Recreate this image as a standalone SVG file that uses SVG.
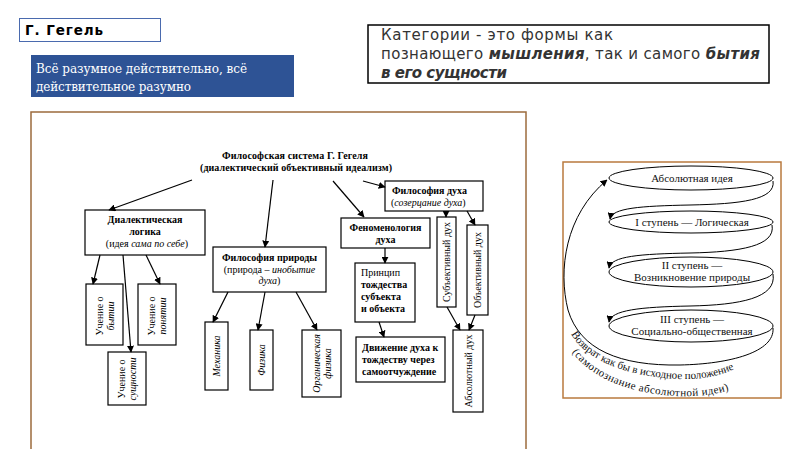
<svg xmlns="http://www.w3.org/2000/svg" width="800" height="449" viewBox="0 0 800 449">
<defs>
<marker id="ah" viewBox="0 0 10 10" refX="9" refY="5" markerWidth="7" markerHeight="7" markerUnits="userSpaceOnUse" orient="auto">
<path d="M0,0 L10,5 L0,10 z" fill="#000"/>
</marker>
<style>
.box{fill:#fff;stroke:#000;stroke-width:1.2}
.ln{fill:none;stroke:#000;stroke-width:1.2;marker-end:url(#ah)}
.sp{fill:none;stroke:#000;stroke-width:1}
.t{font-family:"Liberation Serif","Times New Roman",serif;font-size:10px;fill:#000}
.tb{font-family:"Liberation Serif","Times New Roman",serif;font-size:10px;font-weight:bold;fill:#000}
.it{font-style:italic}
.st{font-family:"Liberation Serif","DejaVu Serif",serif;font-size:11px;fill:#111}
</style>
</defs>
<rect width="800" height="449" fill="#fff"/>

<g id="title">
<rect x="19.5" y="18.5" width="141" height="23" fill="#fff" stroke="#4a6aae" stroke-width="1"/>
<text x="25" y="35" font-family="DejaVu Sans, sans-serif" font-size="13.5" font-weight="bold" fill="#000" textLength="78">Г. Гегель</text>
</g>

<g id="quote">
<rect x="31" y="55" width="263" height="42" fill="#2e5395"/>
<text x="36" y="73" font-family="DejaVu Serif, serif" font-size="12" fill="#fff" textLength="211">Всё разумное действительно, всё</text>
<text x="36" y="91" font-family="DejaVu Serif, serif" font-size="12" fill="#fff" textLength="155">действительное разумно</text>
</g>

<g id="categories">
<rect x="368" y="25" width="401" height="58" fill="#fff" stroke="#000" stroke-width="1.5"/>
<text font-family="DejaVu Sans, sans-serif" font-size="15" fill="#333">
<tspan x="381" y="40" textLength="232">Категории - это формы как</tspan>
<tspan x="381" y="59" textLength="379">познающего <tspan font-weight="bold" font-style="italic">мышления</tspan>, так и самого <tspan font-weight="bold" font-style="italic">бытия</tspan></tspan>
<tspan x="381" y="78" font-weight="bold" font-style="italic" textLength="126">в его сущности</tspan>
</text>
</g>

<g id="frame-left">
<rect x="31" y="112" width="495" height="350" fill="none" stroke="#9c6b3c" stroke-width="1.5"/>
</g>
<g id="frame-right">
<rect x="563" y="162" width="218" height="236" fill="none" stroke="#b97a3e" stroke-width="1.5"/>
</g>

<g id="system">
<text class="tb" x="295" y="159" text-anchor="middle" textLength="146">Философская система Г. Гегеля</text>
<text class="tb" x="296" y="171" text-anchor="middle" textLength="192">(диалектический объективный идеализм)</text>
</g>

<g id="dialectical-logic">
<rect class="box" x="85" y="210" width="120" height="45"/>
<text class="tb" x="145" y="223" text-anchor="middle">Диалектическая</text>
<text class="tb" x="145" y="235" text-anchor="middle">логика</text>
<text class="t" x="147" y="247" text-anchor="middle">(идея <tspan class="it">сама по себе</tspan>)</text>
</g>

<g id="nature">
<rect class="box" x="213" y="247" width="113" height="45"/>
<text class="tb" x="269.5" y="261" text-anchor="middle">Философия природы</text>
<text class="t" x="269.5" y="273" text-anchor="middle">(природа – <tspan class="it">инобытие</tspan></text>
<text class="t" x="269.5" y="284" text-anchor="middle"><tspan class="it">духа</tspan>)</text>
</g>

<g id="phenomenology">
<rect class="box" x="341" y="218" width="89" height="30"/>
<text class="tb" x="385.5" y="231" text-anchor="middle">Феноменология</text>
<text class="tb" x="385.5" y="243" text-anchor="middle">духа</text>
</g>

<g id="spirit">
<rect class="box" x="385" y="181" width="98" height="30"/>
<text class="tb" x="392" y="194">Философия духа</text>
<text class="t" x="391" y="206">(<tspan class="it">созерцание духа</tspan>)</text>
</g>

<g id="principle">
<rect class="box" x="355" y="263" width="60" height="59"/>
<text class="t" x="361" y="276">Принцип</text>
<text class="tb" x="361" y="288">тождества</text>
<text class="tb" x="361" y="300">субъекта</text>
<text class="tb" x="361" y="312">и объекта</text>
</g>

<g id="movement">
<rect class="box" x="356" y="337" width="89" height="45"/>
<text class="tb" x="362" y="351">Движение духа к</text>
<text class="tb" x="362" y="363">тождеству через</text>
<text class="tb" x="362" y="375">самоотчуждение</text>
</g>

<g id="being">
<rect class="box" x="86" y="284" width="37" height="61"/>
<g transform="translate(104.5,316) rotate(-90)">
<text class="t" x="0" y="-2" text-anchor="middle">Учение о</text>
<text class="t it" x="0" y="9" text-anchor="middle">бытии</text>
</g>
</g>

<g id="essence">
<rect class="box" x="108" y="352" width="38" height="53"/>
<g transform="translate(127,379) rotate(-90)">
<text class="t" x="0" y="-2" text-anchor="middle">Учение о</text>
<text class="t it" x="0" y="9" text-anchor="middle">сущности</text>
</g>
</g>

<g id="concept">
<rect class="box" x="138" y="284" width="38" height="61"/>
<g transform="translate(157,316) rotate(-90)">
<text class="t" x="0" y="-2" text-anchor="middle">Учение о</text>
<text class="t it" x="0" y="9" text-anchor="middle">понятии</text>
</g>
</g>

<g id="mechanics">
<rect class="box" x="205" y="322" width="23" height="68"/>
<text class="t it" transform="translate(216.5,356) rotate(-90)" x="0" y="3.5" text-anchor="middle">Механика</text>
</g>

<g id="physics">
<rect class="box" x="250" y="330" width="23" height="60"/>
<text class="t it" transform="translate(261.5,360) rotate(-90)" x="0" y="3.5" text-anchor="middle">Физика</text>
</g>

<g id="organic">
<rect class="box" x="302" y="330" width="39" height="67"/>
<g transform="translate(321.5,363.5) rotate(-90)">
<text class="t it" x="0" y="-2" text-anchor="middle">Органическая</text>
<text class="t it" x="0" y="9" text-anchor="middle">физика</text>
</g>
</g>

<g id="subjective">
<rect class="box" x="437" y="217" width="19" height="90"/>
<text class="t" transform="translate(446.5,262) rotate(-90)" x="0" y="3.5" text-anchor="middle">Субъективный дух</text>
</g>

<g id="objective">
<rect class="box" x="467" y="225" width="21" height="90"/>
<text class="t" transform="translate(477.5,270) rotate(-90)" x="0" y="3.5" text-anchor="middle">Объективный дух</text>
</g>

<g id="absolute">
<rect class="box" x="453" y="330" width="30" height="82"/>
<text class="t" transform="translate(468,371) rotate(-90)" x="0" y="3.5" text-anchor="middle">Абсолютный дух</text>
</g>

<g id="idea">
<ellipse class="sp" cx="691" cy="178" rx="82" ry="12"/>
<text class="st" x="692" y="182" text-anchor="middle">Абсолютная идея</text>
</g>
<g id="stage1">
<ellipse class="sp" cx="691" cy="222" rx="82" ry="11"/>
<text class="st" x="692" y="226" text-anchor="middle">I ступень — Логическая</text>
</g>
<g id="stage2">
<ellipse class="sp" cx="691" cy="272" rx="82" ry="15"/>
<text class="st" x="692" y="269" text-anchor="middle">II ступень —</text>
<text class="st" x="692" y="281" text-anchor="middle">Возникновение природы</text>
</g>
<g id="stage3">
<ellipse class="sp" cx="691" cy="326" rx="82" ry="16"/>
<text class="st" x="692" y="323" text-anchor="middle">III ступень —</text>
<text class="st" x="692" y="335" text-anchor="middle">Социально-общественная</text>
</g>

<g id="connectors">
<path class="ln" d="M192,180 L109,210"/>
<path class="ln" d="M273,180 L265,247"/>
<path class="ln" d="M333,181 L364,217"/>
<path class="ln" d="M363,181 L385,187"/>
<path class="ln" d="M100,255 L93,284"/>
<path class="ln" d="M123,255 L131,352"/>
<path class="ln" d="M146,255 L160,284"/>
<path class="ln" d="M228,292 L213,322"/>
<path class="ln" d="M265,292 L258,330"/>
<path class="ln" d="M296,292 L317,330"/>
<path class="ln" d="M385,248 L385,263"/>
<path class="ln" d="M379,322 L384,337"/>
<path class="ln" d="M446,211 L446,217"/>
<path class="ln" d="M467,211 L475,225"/>
<path class="ln" d="M447,307 L460,330"/>
<path class="ln" d="M475,315 L469,330"/>
<path class="ln" style="stroke-width:1" d="M773,181 C776,200 740,204 690,205 C640,206 612,208 610,219"/>
<path class="ln" style="stroke-width:1" d="M772,225 C776,246 740,252 690,253 C640,254 611,256 609,268"/>
<path class="ln" style="stroke-width:1" d="M773,274 C777,298 740,305 690,306 C640,307 611,310 609,322"/>
<path class="ln" style="stroke-width:1" d="M773,328 C775,352 730,364 680,365 C620,366 580,350 568,310 C558,270 565,215 607,180"/>
<path id="arc1" d="M571,334 C590,368 650,380 690,379 C715,378 736,371 752,358" fill="none"/>
<path id="arc2" d="M572,352 C596,385 650,398 695,396 C716,395 735,390 750,380" fill="none"/>
<text class="st" font-size="10.5"><textPath href="#arc1" textLength="178">Возврат как бы в исходное положение</textPath></text>
<text class="st" font-size="10.5"><textPath href="#arc2" textLength="170">(самопознание абсолютной идеи)</textPath></text>
</g>
</svg>
